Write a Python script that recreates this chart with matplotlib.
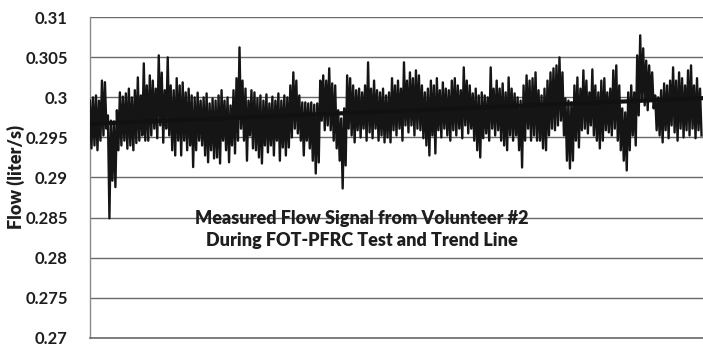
import numpy as np
import matplotlib
matplotlib.use("Agg")
import matplotlib.pyplot as plt

# Flow signal, local highs and lows (liter/s), one pair per short stretch of samples
flow_highs = [
    0.2996, 0.3000, 0.30025, 0.2996, 0.3021, 0.3019, 0.29775, 0.2971, 0.2970, 0.2984,
    0.30063, 0.3001, 0.3005, 0.3011, 0.3000, 0.3009, 0.3025, 0.30025, 0.30425, 0.3015,
    0.30275, 0.3021, 0.3011, 0.30525, 0.3031, 0.3009, 0.3050, 0.3015, 0.3009, 0.3024,
    0.3015, 0.30188, 0.30063, 0.3011, 0.30025, 0.3000, 0.3006, 0.2996, 0.3000, 0.3005,
    0.29925, 0.29988, 0.2996, 0.30025, 0.3009, 0.2996, 0.3000, 0.2990, 0.3009, 0.3024,
    0.30625, 0.3021, 0.3011, 0.2996, 0.3009, 0.30063, 0.29988, 0.30025, 0.2996, 0.30038,
    0.29925, 0.3001, 0.2996, 0.3005, 0.2996, 0.30025, 0.3000, 0.3015, 0.30313, 0.3021,
    0.30025, 0.29938, 0.29938, 0.29925, 0.29938, 0.2991, 0.29925, 0.3021, 0.30275, 0.3021,
    0.30363, 0.30175, 0.3015, 0.2984, 0.29738, 0.29863, 0.30275, 0.3024, 0.3015, 0.3009,
    0.3011, 0.30063, 0.3015, 0.30438, 0.3011, 0.3021, 0.3009, 0.30063, 0.3011, 0.30025,
    0.30063, 0.3024, 0.3015, 0.3021, 0.3011, 0.30438, 0.3021, 0.30313, 0.3024, 0.30338,
    0.30275, 0.3015, 0.30063, 0.3011, 0.3021, 0.3015, 0.3024, 0.3009, 0.30188, 0.3011,
    0.3009, 0.3021, 0.3024, 0.3015, 0.3009, 0.30375, 0.3021, 0.3015, 0.3005, 0.3011,
    0.30025, 0.30063, 0.30025, 0.3000, 0.30375, 0.3011, 0.3021, 0.3011, 0.30175, 0.30063,
    0.3025, 0.3011, 0.3005, 0.3000, 0.2996, 0.3015, 0.30275, 0.3021, 0.3024, 0.30313,
    0.3009, 0.30025, 0.3011, 0.3021, 0.30313, 0.30363, 0.3040, 0.3050, 0.30313, 0.29988,
    0.2996, 0.29938, 0.3015, 0.3025, 0.3011, 0.30338, 0.3021, 0.30063, 0.3035, 0.3015,
    0.30063, 0.3021, 0.3024, 0.30063, 0.3011, 0.30338, 0.3040, 0.3015, 0.29863, 0.29813,
    0.30063, 0.3015, 0.30063, 0.30525, 0.30775, 0.30613, 0.3046, 0.3040, 0.30313, 0.30025,
    0.3000, 0.3009, 0.30175, 0.3015, 0.3021, 0.30375, 0.3021, 0.30313, 0.3024, 0.3015,
    0.30338, 0.3040, 0.3015, 0.3024, 0.3011,
]
flow_lows = [
    0.29363, 0.2940, 0.2934, 0.2946, 0.29525, 0.2961, 0.2849, 0.2896, 0.2888, 0.2934,
    0.2940, 0.2946, 0.2936, 0.2940, 0.2934, 0.2943, 0.2946, 0.29525, 0.2946, 0.2946,
    0.29525, 0.2961, 0.2949, 0.2965, 0.29435, 0.2961, 0.29525, 0.2934, 0.29275, 0.2946,
    0.29275, 0.2946, 0.2934, 0.2940, 0.2913, 0.2934, 0.2946, 0.2940, 0.29275, 0.2919,
    0.2934, 0.29238, 0.2925, 0.29175, 0.2946, 0.2934, 0.2919, 0.2940, 0.2930, 0.2946,
    0.2961, 0.2946, 0.2921, 0.29525, 0.29363, 0.2934, 0.2925, 0.29175, 0.2940, 0.29313,
    0.2940, 0.29275, 0.2946, 0.2921, 0.29375, 0.29275, 0.29375, 0.2950, 0.2961, 0.2955,
    0.2946, 0.29275, 0.2946, 0.29363, 0.2921, 0.2905, 0.29188, 0.2971, 0.2959, 0.2965,
    0.2959, 0.2946, 0.29363, 0.2921, 0.28863, 0.2915, 0.2961, 0.29525, 0.29438, 0.2959,
    0.2950, 0.2961, 0.2946, 0.29563, 0.2949, 0.2961, 0.2946, 0.29525, 0.29438, 0.2950,
    0.29438, 0.2959, 0.29525, 0.2961, 0.2946, 0.2965, 0.29563, 0.2965, 0.29525, 0.2961,
    0.2959, 0.2949, 0.2940, 0.29275, 0.29525, 0.2930, 0.2959, 0.2950, 0.2961, 0.29525,
    0.2946, 0.2959, 0.29525, 0.2961, 0.2949, 0.2965, 0.2955, 0.2961, 0.2946, 0.2934,
    0.2925, 0.2949, 0.2955, 0.2946, 0.2961, 0.29525, 0.2959, 0.2946, 0.2940, 0.2934,
    0.29525, 0.2946, 0.29525, 0.2934, 0.29125, 0.2946, 0.2961, 0.2946, 0.29525, 0.2946,
    0.2946, 0.29363, 0.2934, 0.29525, 0.2961, 0.2959, 0.2965, 0.2971, 0.29525, 0.2921,
    0.29113, 0.2921, 0.2946, 0.29375, 0.2959, 0.2961, 0.2955, 0.2965, 0.29525, 0.2946,
    0.29363, 0.2946, 0.2959, 0.29563, 0.29525, 0.2961, 0.2946, 0.2934, 0.2921, 0.29088,
    0.2934, 0.29525, 0.2940, 0.29775, 0.2996, 0.2990, 0.2984, 0.2996, 0.29863, 0.2959,
    0.29525, 0.29438, 0.2959, 0.2949, 0.2965, 0.29563, 0.2946, 0.2961, 0.2950, 0.2959,
    0.29525, 0.2961, 0.2949, 0.2959, 0.29525,
]

# linear trend over the recording (start and end values)
trend_ends = [0.2967, 0.2999]

y_ticks = [0.27, 0.275, 0.28, 0.285, 0.29, 0.295, 0.30, 0.305, 0.31]
y_tick_labels = ["0.27", "0.275", "0.28", "0.285", "0.29", "0.295", "0.3", "0.305", "0.31"]

# interleave highs and lows into one sample stream
flow = np.empty(2 * len(flow_highs))
flow[0::2] = flow_highs
flow[1::2] = flow_lows
samples = np.arange(len(flow))

fig = plt.figure(figsize=(7.03, 3.47), dpi=100)
ax = fig.add_axes([0.128, 0.027, 0.872, 0.923])

ax.plot(samples, flow, color="#151515", linewidth=1.7, zorder=3)
ax.plot([samples[0], samples[-1]], trend_ends, color="#111111", linewidth=3.0, zorder=4)

ax.set_xlim(samples[0], samples[-1] + 1)
ax.set_ylim(0.27, 0.31)
ax.set_yticks(y_ticks)
ax.set_yticklabels(y_tick_labels, fontfamily="Lato", fontweight="bold", fontsize=12)
ax.set_xticks([])
ax.tick_params(axis="y", length=0, pad=16, colors="#1e1e1e")
ax.grid(axis="y", color="#6a6a6a", linewidth=1.0, zorder=1)

for side in ["top", "right"]:
    ax.spines[side].set_visible(False)
ax.spines["left"].set_color("#8a8a8a")
ax.spines["bottom"].set_color("#6a6a6a")
ax.spines["left"].set_linewidth(1.0)
ax.spines["bottom"].set_linewidth(1.2)

ax.set_ylabel("Flow (liter/s)", fontfamily="Lato", fontweight="heavy", fontsize=13,
              color="#1e1e1e", labelpad=0)

ax.text(0.443, 0.2835, "Measured Flow Signal from Volunteer #2\nDuring FOT-PFRC Test and Trend Line",
        transform=ax.get_yaxis_transform(), ha="center", va="center",
        fontfamily="Lato", fontweight="heavy", fontsize=13, color="#1e1e1e",
        linespacing=1.4, zorder=5)

fig.savefig("out.png", dpi=100)
